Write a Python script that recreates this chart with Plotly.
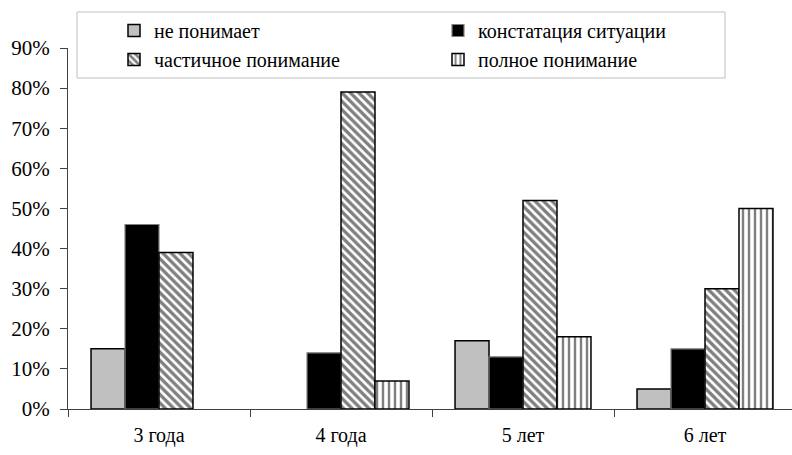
import plotly.graph_objects as go

# Age groups on the category axis
categories = ["3 года", "4 года", "5 лет", "6 лет"]

# Share of children in each group, per level of understanding
ne_ponimaet = [0.15, 0.00, 0.17, 0.05]
konstataciya = [0.46, 0.14, 0.13, 0.15]
chastichnoe = [0.39, 0.79, 0.52, 0.30]
polnoe = [0.00, 0.07, 0.18, 0.50]

series_names = ["не понимает", "констатация ситуации",
                "частичное понимание", "полное понимание"]

FONT = "Liberation Serif"
OUTLINE = dict(color="black", width=1.5)

# plot-area geometry in pixels, used to place the legend frame in paper units
W, H = 792, 455
L, T, B = 68, 48, 46
PW, PH = W - L, H - T - B


def px_x(x):
    return (x - L) / PW


def px_y(y):
    return (H - B - y) / PH


def visible(values):
    # empty bars are left out so nothing is drawn on the baseline
    return [v if v > 0 else None for v in values]


fig = go.Figure()

fig.add_trace(go.Bar(
    name=series_names[0], x=categories, y=visible(ne_ponimaet),
    marker=dict(color="#c0c0c0", line=OUTLINE),
))
fig.add_trace(go.Bar(
    name=series_names[1], x=categories, y=visible(konstataciya),
    marker=dict(color="black", line=dict(color="#808080", width=1.2)),
))
fig.add_trace(go.Bar(
    name=series_names[2], x=categories, y=visible(chastichnoe),
    marker=dict(color="white", line=OUTLINE,
                pattern=dict(shape="\\", fgcolor="black", bgcolor="white",
                             size=6, solidity=0.55)),
))
fig.add_trace(go.Bar(
    name=series_names[3], x=categories, y=visible(polnoe),
    marker=dict(color="white", line=OUTLINE,
                pattern=dict(shape="|", fgcolor="black", bgcolor="white",
                             size=6, solidity=0.4)),
))

# legend frame
fig.add_shape(
    type="rect", xref="paper", yref="paper",
    x0=px_x(77), x1=px_x(725), y0=px_y(78), y1=px_y(12),
    line=dict(color="#333333", width=1), fillcolor="white", layer="above",
)

fig.update_layout(
    template="simple_white",
    width=W, height=H,
    margin=dict(l=L, r=0, t=T, b=B, pad=0),
    paper_bgcolor="white", plot_bgcolor="white",
    font=dict(family=FONT, size=20, color="black"),
    barmode="group", bargap=0.253, bargroupgap=0,
    showlegend=True,
    legend=dict(
        orientation="h",
        x=px_x(114), xanchor="left",
        y=px_y(11), yanchor="top",
        entrywidth=279, entrywidthmode="pixels",
        bgcolor="rgba(0,0,0,0)", borderwidth=0,
        font=dict(family=FONT, size=20, color="black"),
        traceorder="normal",
    ),
    xaxis=dict(
        type="category",
        range=[-0.5, 3.478],
        showline=True, linecolor="#404040", linewidth=1,
        ticks="outside", tickson="boundaries", ticklen=7,
        tickcolor="#404040", tickwidth=1,
        showgrid=False, zeroline=False,
        tickfont=dict(family=FONT, size=20, color="black"),
        ticklabelstandoff=8,
    ),
    yaxis=dict(
        range=[0, 0.9], dtick=0.1, tick0=0,
        tickformat=".0%",
        showline=True, linecolor="#404040", linewidth=1,
        ticks="outside", ticklen=7, tickcolor="#404040", tickwidth=1,
        showgrid=False, zeroline=False,
        tickfont=dict(family=FONT, size=21, color="black"),
        ticklabelstandoff=6,
    ),
)

fig.write_html("out.html")
